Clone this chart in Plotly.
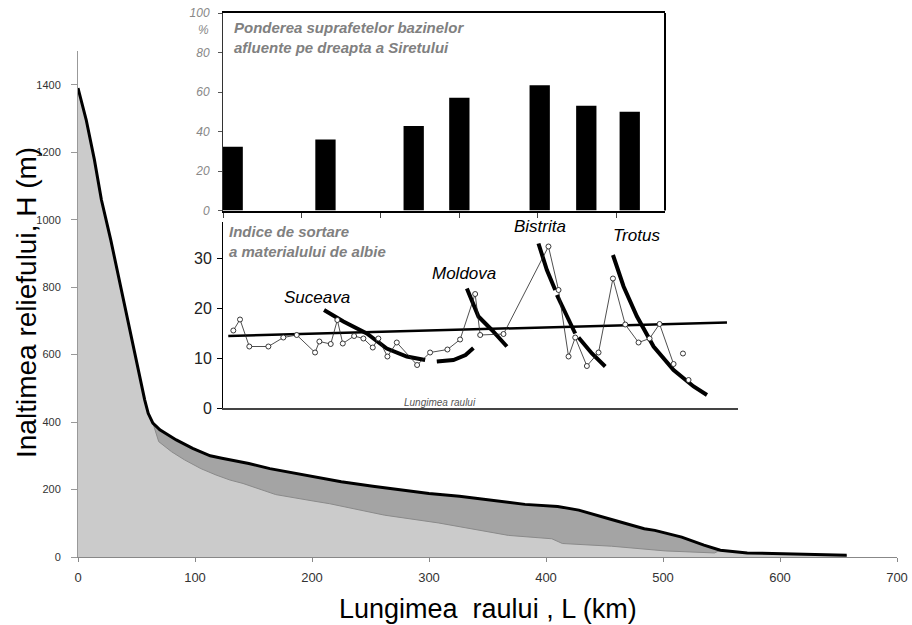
import plotly.graph_objects as go

W, H = 912, 625

# ---------------- main longitudinal profile ----------------
prof_km = [0, 7, 14, 20, 28, 37, 44, 51, 57, 60, 64, 70, 84, 98, 113, 123, 132, 146, 164,
           200, 225, 252, 300, 326, 354, 382, 410, 428, 456, 484, 493, 516, 535, 549, 572,
           600, 632, 657]
prof_h = [1390, 1296, 1178, 1059, 940, 792, 683, 565, 466, 426, 397, 377, 347, 322, 300, 293,
          287, 277, 262, 238, 223, 210, 188, 180, 168, 156, 150, 139, 111, 84, 79, 59, 35, 20,
          12, 10, 8, 5]

# lower (light grey) boundary
low_km = [69, 80, 91, 105, 118, 130, 141, 169, 201, 215, 262, 308, 368, 405, 414, 456, 502, 544]
low_h = [342, 312, 288, 262, 243, 228, 218, 185, 166, 158, 124, 101, 64, 54, 40, 32, 18, 12]

x_ticks = [0, 100, 200, 300, 400, 500, 600, 700]
y_ticks = [0, 200, 400, 600, 800, 1000, 1200, 1400]

# ---------------- inset 1: bars ----------------
bar_pos = [12.3, 130.2, 242.3, 300.3, 402.4, 461.6, 516.8]
bar_val = [32.3, 36.0, 42.8, 57.1, 63.4, 53.1, 50.0]
bar_ticks_x = [0, 100, 200, 300, 400, 500]
bar_ticks_y = [0, 20, 40, 60, 80, 100]

# ---------------- inset 2: sorting index ----------------
idx_x = [13.1, 21.6, 33.4, 57.6, 76.6, 93.6, 116.9, 122.4, 136.8, 145.2, 152.1, 166.5, 178.3,
         190.2, 197.3, 208.8, 220.7, 246.5, 263.0, 285.0, 301.1, 320.2, 326.6, 356.2, 413.3,
         426.1, 438.8, 447.3, 462.1, 476.9, 495.2, 510.8, 527.7, 541.7, 554.4, 572.2]
idx_y = [15.5, 17.7, 12.3, 12.3, 14.1, 14.6, 11.1, 13.3, 12.8, 17.6, 12.9, 14.4, 13.9,
         12.1, 13.9, 10.3, 13.1, 8.6, 11.1, 11.7, 13.7, 22.8, 14.6, 14.8, 32.3,
         23.6, 10.3, 14.1, 8.4, 11.1, 25.9, 16.7, 13.1, 13.9, 16.8, 8.8]
iso_x = [584.1, 591.2]
iso_y = [10.9, 5.6]

trend_x = [6.7, 640.0]
trend_y = [14.4, 17.1]

suc_x = [128.3, 152.9, 182.6, 208.0, 233.4, 256.7, None, 271.5, 292.6, 308.0, 318.0]
suc_y = [19.6, 17.3, 14.9, 11.9, 10.3, 9.6, None, 9.3, 9.6, 10.6, 12.0]
mol_x = [309.7, 324.4, 341.4, 360.5]
mol_y = [23.9, 18.3, 15.6, 12.3]
bis_x = [400.6, 411.3, 421.9, None, 424.0, 436.7, 447.3, None, 451.5, 468.5, 485.4]
bis_y = [32.9, 27.6, 23.6, None, 22.6, 18.3, 14.9, None, 14.1, 10.9, 8.3]
tro_x = [495.2, 508.7, 525.7, 546.8, 572.2, 597.6, 614.6]
tro_y = [30.6, 24.3, 18.3, 12.3, 7.6, 4.3, 2.6]

idx_ticks_y = [0, 10, 20, 30]


def dx(px):
    return px / W


def dy(py):
    return 1 - py / H


FONT = "Arial, Liberation Sans, sans-serif"

fig = go.Figure()

# dark grey area under the profile
fig.add_trace(go.Scatter(x=prof_km, y=prof_h, mode="lines", fill="tozeroy",
                         fillcolor="#a4a4a4", line=dict(width=0, color="#a4a4a4"),
                         hoverinfo="skip", xaxis="x", yaxis="y"))

# light grey area
lx = [k for k in prof_km if k <= 64] + low_km + [k for k in prof_km if k >= 549]
ly = [h for k, h in zip(prof_km, prof_h) if k <= 64] + low_h + \
     [h for k, h in zip(prof_km, prof_h) if k >= 549]
fig.add_trace(go.Scatter(x=lx, y=ly, mode="lines", fill="tozeroy",
                         fillcolor="#cbcbcb", line=dict(width=1, color="#8a8a8a"),
                         hoverinfo="skip", xaxis="x", yaxis="y"))

# black profile line
fig.add_trace(go.Scatter(x=prof_km, y=prof_h, mode="lines",
                         line=dict(width=3, color="black"),
                         xaxis="x", yaxis="y"))

# bars
fig.add_trace(go.Bar(x=bar_pos, y=bar_val, width=25.8, marker=dict(color="black", line=dict(width=0)),
                     xaxis="x2", yaxis="y2"))

# inset 2 thick lines
for xs, ys, w in [(trend_x, trend_y, 2.5), (suc_x, suc_y, 4), (mol_x, mol_y, 4),
                  (bis_x, bis_y, 4), (tro_x, tro_y, 4)]:
    fig.add_trace(go.Scatter(x=xs, y=ys, mode="lines", line=dict(width=w, color="black"),
                             connectgaps=False, xaxis="x3", yaxis="y3"))

# data line with open circles
fig.add_trace(go.Scatter(x=idx_x, y=idx_y, mode="lines+markers",
                         line=dict(width=0.8, color="#222"),
                         marker=dict(size=5, color="white", line=dict(width=0.9, color="#222")),
                         xaxis="x3", yaxis="y3"))
fig.add_trace(go.Scatter(x=iso_x, y=iso_y, mode="markers",
                         marker=dict(size=5, color="white", line=dict(width=0.9, color="#222")),
                         xaxis="x3", yaxis="y3"))

ann = []
# main axis titles
ann.append(dict(text="Lungimea  raului , L (km)", xref="paper", yref="paper",
                x=dx(488), y=dy(609), xanchor="center", yanchor="middle", showarrow=False,
                font=dict(family=FONT, size=27, color="black")))
ann.append(dict(text="Inaltimea reliefului, H (m)", xref="paper", yref="paper",
                x=dx(26), y=dy(303), xanchor="center", yanchor="middle", showarrow=False,
                textangle=-90, font=dict(family=FONT, size=28, color="black")))

grey_it = dict(family=FONT, size=15, color="#808080", style="italic", weight="bold")
ann.append(dict(text="Ponderea suprafetelor bazinelor<br>afluente pe dreapta a Siretului",
                xref="paper", yref="paper", x=dx(232), y=dy(17), xanchor="left", yanchor="top",
                align="left", showarrow=False, font=grey_it))
ann.append(dict(text="Indice de sortare<br>a materialului de albie",
                xref="paper", yref="paper", x=dx(227), y=dy(221), xanchor="left", yanchor="top",
                align="left", showarrow=False, font=grey_it))
ann.append(dict(text="%", xref="paper", yref="paper", x=dx(203), y=dy(30),
                xanchor="center", yanchor="middle", showarrow=False,
                font=dict(family=FONT, size=12, color="#888", style="italic")))
ann.append(dict(text="Lungimea raului", xref="paper", yref="paper", x=dx(440), y=dy(402),
                xanchor="center", yanchor="middle", showarrow=False,
                font=dict(family=FONT, size=10, color="#555", style="italic")))

river_font = dict(family=FONT, size=17, color="black", style="italic")
for name, px, py in [("Suceava", 317, 297), ("Moldova", 464, 273),
                     ("Bistrita", 540, 227), ("Trotus", 636, 235)]:
    ann.append(dict(text=name, xref="paper", yref="paper", x=dx(px), y=dy(py),
                    xanchor="center", yanchor="middle", showarrow=False, font=river_font))

fig.update_layout(
    width=W, height=H,
    margin=dict(l=0, r=0, t=0, b=0, autoexpand=False),
    paper_bgcolor="white", plot_bgcolor="rgba(0,0,0,0)",
    showlegend=False,
    font=dict(family=FONT),
    annotations=ann,
    shapes=[dict(type="line", xref="x2 domain", yref="y2 domain", x0=1, x1=1, y0=0, y1=1,
                 line=dict(color="black", width=2))],
    xaxis=dict(domain=[dx(78), dx(897)], range=[0, 700], tickvals=x_ticks, anchor="y",
               automargin=False,
               showline=True, linecolor="#888", linewidth=1, ticks="outside", ticklen=4,
               tickcolor="#888", tickfont=dict(size=13, color="#333"), ticklabelstandoff=4,
               showgrid=False, zeroline=False),
    yaxis=dict(domain=[dy(557), dy(51)], range=[0, 1500], tickvals=y_ticks, anchor="x",
               automargin=False,
               showline=True, linecolor="#999", linewidth=1, ticks="outside", ticklen=6,
               tickcolor="#999", tickfont=dict(size=11, color="#333"), ticklabelstandoff=8,
               showgrid=False, zeroline=False),
    xaxis2=dict(domain=[dx(223), dx(665)], range=[0, 561.6], anchor="y2",
                automargin=False,
                tickvals=bar_ticks_x, showticklabels=False,
                showline=True, linecolor="black", linewidth=2, mirror=True,
                ticks="outside", ticklen=5, tickcolor="#444",
                showgrid=False, zeroline=False),
    yaxis2=dict(domain=[dy(210.5), dy(13)], range=[0, 100], anchor="x2",
                automargin=False,
                tickvals=bar_ticks_y, showline=True, linecolor="#333", linewidth=1,
                ticks="outside", ticklen=4, tickcolor="#555", ticklabelstandoff=6,
                tickfont=dict(size=12, color="#888", style="italic"),
                showgrid=False, zeroline=False),
    xaxis3=dict(domain=[dx(223), dx(738)], range=[0, 654], anchor="y3",
                automargin=False,
                showticklabels=False, ticks="", showline=True, linecolor="#444",
                linewidth=1.5, showgrid=False, zeroline=False),
    yaxis3=dict(domain=[dy(408), dy(222)], range=[0, 37.2], anchor="x3",
                automargin=False,
                tickvals=idx_ticks_y, showline=True, linecolor="black", linewidth=1,
                ticks="outside", ticklen=5, tickcolor="black", ticklabelstandoff=2,
                tickfont=dict(size=16, color="#222"),
                showgrid=False, zeroline=False),
)

fig.write_html("out.html", config={"displayModeBar": False},
               post_script="document.body.style.margin='0';"
                           "document.body.style.overflow='hidden';")
